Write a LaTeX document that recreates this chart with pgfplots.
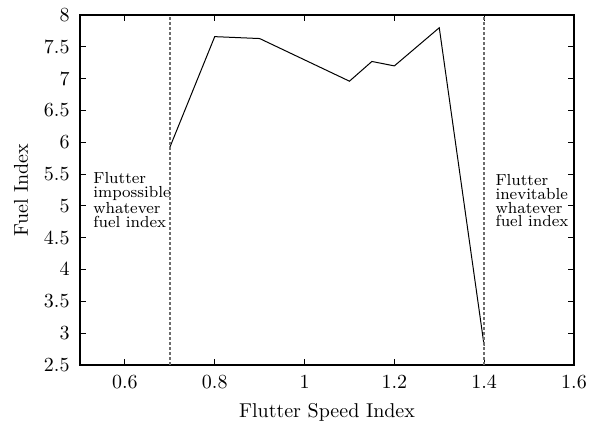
\documentclass[border=0pt]{standalone}
\usepackage{pgfplots}
\pgfplotsset{compat=1.18}
\begin{document}
\begin{tikzpicture}
\begin{axis}[
  name=ax,
  width=247pt, height=175pt, scale only axis,
  xmin=0.5, xmax=1.6, ymin=2.5, ymax=8,
  xtick={0.6,0.8,1,1.2,1.4,1.6},
  ytick={2.5,3,3.5,4,4.5,5,5.5,6,6.5,7,7.5,8},
  tick align=inside, tick pos=both,
  major tick length=3pt,
  tick style={black, line width=0.5pt},
  axis line style={line width=0.7pt},
  yticklabel style={xshift=-1.7pt},
  xticklabel style={yshift=-2pt},
  xlabel={Flutter Speed Index}, ylabel={Fuel Index},
  xlabel style={at={(axis description cs:0.5,0)}, anchor=center, yshift=-23.5pt},
  ylabel style={at={(axis description cs:-0.1194,0.5)}, anchor=center},
  clip=false,
]
\addplot[black, line width=0.5pt] coordinates {
 (0.7,5.92) (0.8,7.66) (0.9,7.63) (1.1,6.96) (1.15,7.27) (1.2,7.20) (1.3,7.80) (1.4,2.80)
};
\addplot[gray!85!black, dash pattern=on 1.5pt off 1pt, line width=0.75pt] coordinates {(0.7,2.5) (0.7,8)};
\addplot[gray!85!black, dash pattern=on 1.5pt off 1pt, line width=0.75pt] coordinates {(1.4,2.5) (1.4,8)};
\node[anchor=north west, align=left, inner sep=0pt, font=\fontsize{8}{6.9}\selectfont] at (axis cs:0.529,5.53) {Flutter\\impossible\\whatever\\fuel index};
\node[anchor=north west, align=left, inner sep=0pt, font=\fontsize{8}{6.9}\selectfont] at (axis cs:1.4245,5.50) {Flutter\\inevitable\\whatever\\fuel index};
\end{axis}
\pgfresetboundingbox
\path[use as bounding box] ([xshift=-40pt,yshift=-31.5pt]ax.south west) rectangle ([xshift=8.5pt,yshift=7.5pt]ax.north east);
\end{tikzpicture}
\end{document}
